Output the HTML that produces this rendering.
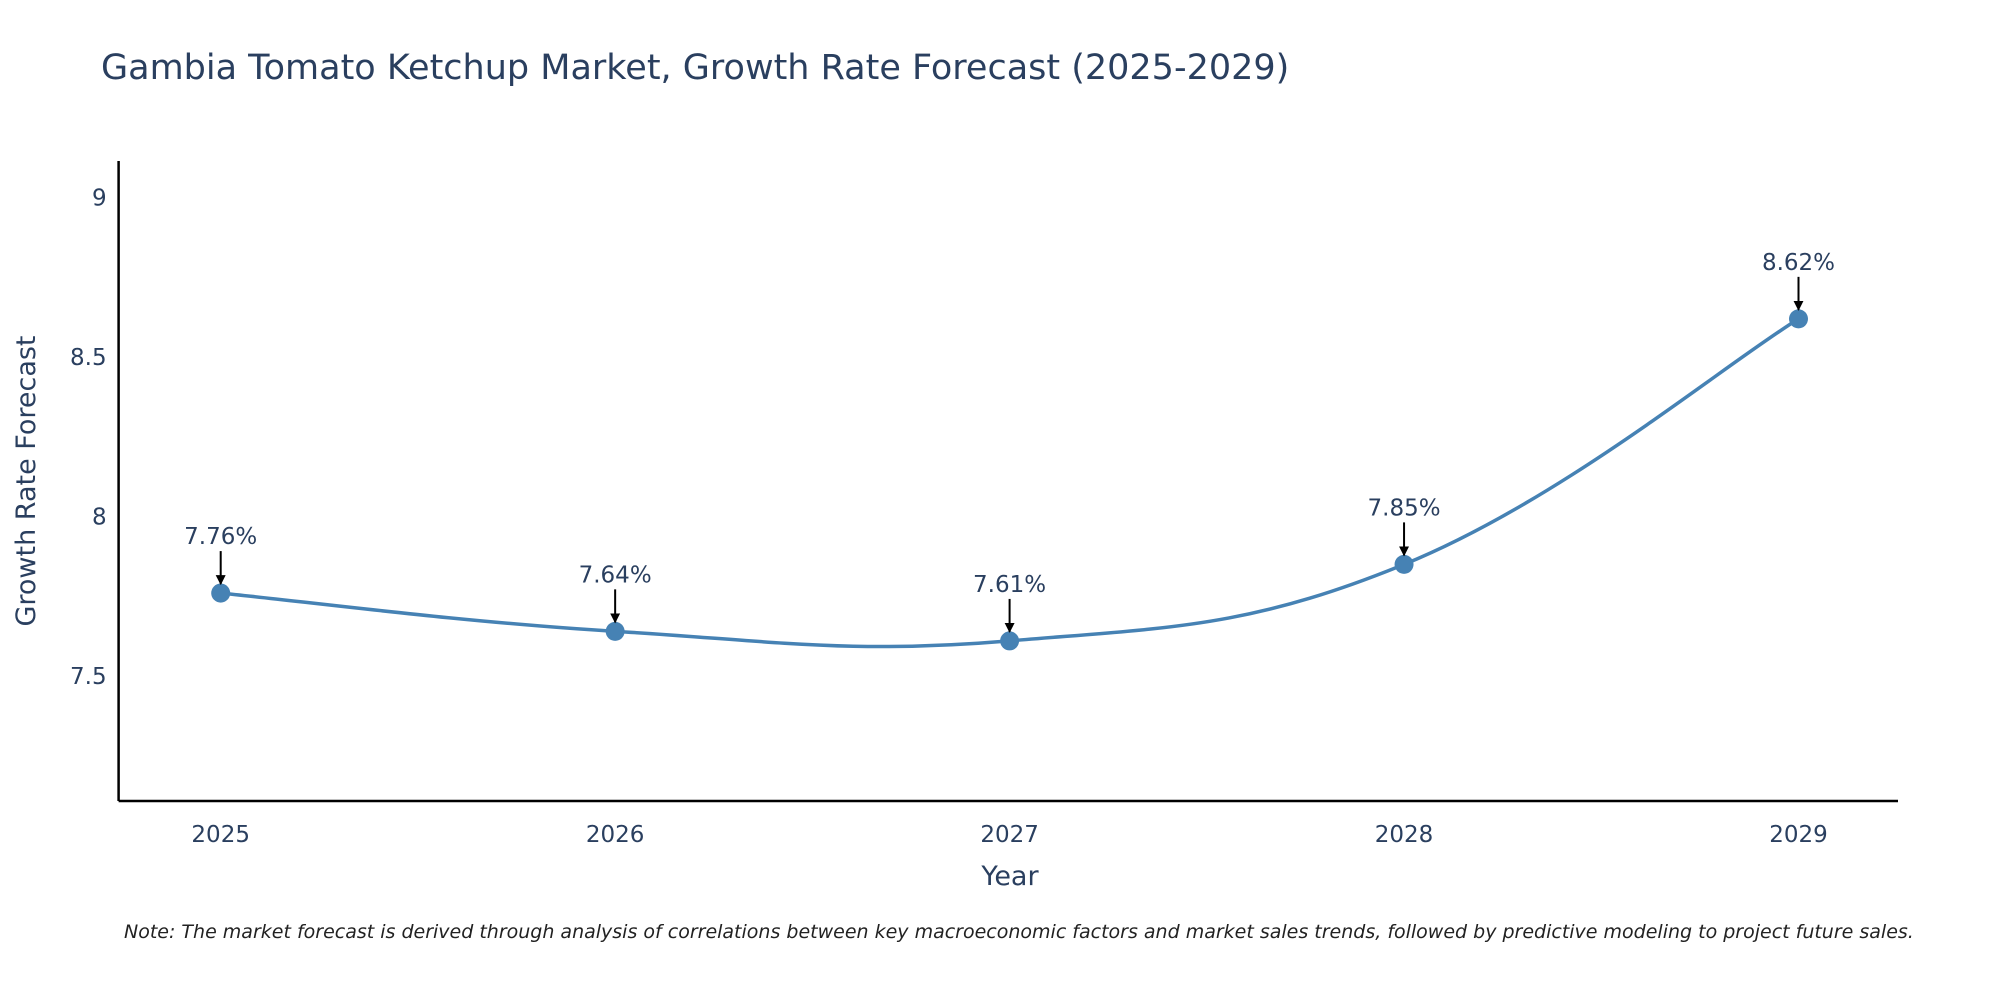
<!DOCTYPE html>
<html><head><meta charset="utf-8"><style>
html,body{margin:0;padding:0;background:#fff;}
svg{display:block;font-family:"DejaVu Sans","Liberation Sans",sans-serif;}
</style></head><body>
<svg id="chart" width="2000" height="1000">
<text x="101" y="79" font-size="35" fill="#2a3f5f">Gambia Tomato Ketchup Market, Growth Rate Forecast (2025-2029)</text>
<g id="plot"></g>
<text x="1010" y="885" font-size="27" fill="#2a3f5f" text-anchor="middle">Year</text>
<text transform="translate(35,481) rotate(-90)" font-size="27" fill="#2a3f5f" text-anchor="middle">Growth Rate Forecast</text>
<text x="124" y="938" font-size="19" font-style="italic" fill="#222">Note: The market forecast is derived through analysis of correlations between key macroeconomic factors and market sales trends, followed by predictive modeling to project future sales.</text>
</svg>
<script>
const years = [2025, 2026, 2027, 2028, 2029];
const values = [7.76, 7.64, 7.61, 7.85, 8.62];
const labels = ["7.76%", "7.64%", "7.61%", "7.85%", "8.62%"];
const yTicks = [7.5, 8, 8.5, 9];
const yTickLabels = ["7.5", "8", "8.5", "9"];

const NS = "http://www.w3.org/2000/svg";
const g = document.getElementById('plot');
const L = 118.6, R = 1898, T = 161, B = 801;
const yMin = 7.108, yMax = 9.115;
const xs = v => 220.7 + (v - 2025) * (1798.5 - 220.7) / 4;
const ys = v => B - (v - yMin) / (yMax - yMin) * (B - T);
function mk(tag, attrs, name){
  const e = document.createElementNS(NS, tag);
  for (const k in attrs) e.setAttribute(k, attrs[k]);
  
  
  g.appendChild(e); return e;
}
const defs = document.createElementNS(NS,'defs');
defs.innerHTML = '<marker id="ah" viewBox="0 0 10 10" refX="9" refY="5" markerWidth="5" markerHeight="5" orient="auto"><path d="M0,0 L10,5 L0,10 z" fill="#000"/></marker>';
g.appendChild(defs);
mk('line',{x1:L,y1:T,x2:L,y2:B,stroke:'#000','stroke-width':2.5},'y-axis-line');
mk('line',{x1:L,y1:B,x2:R,y2:B,stroke:'#000','stroke-width':2.5},'x-axis-line');
yTicks.forEach((t,i)=>{
  const e = mk('text',{x:L-12,y:ys(t)+8,'font-size':23,fill:'#2a3f5f','text-anchor':'end'},'y-tick-label');
  e.textContent = yTickLabels[i];
});
years.forEach(y=>{
  const e = mk('text',{x:xs(y),y:B+41,'font-size':23,fill:'#2a3f5f','text-anchor':'middle'},'x-tick-label');
  e.textContent = y;
});
const P = years.map((y,i)=>[xs(y), ys(values[i])]);
let d = `M${P[0][0]},${P[0][1]}`;
const s = 0.2;
for (let i=0;i<P.length-1;i++){
  const p0=P[Math.max(i-1,0)], p1=P[i], p2=P[i+1], p3=P[Math.min(i+2,P.length-1)];
  const c1=[p1[0]+(p2[0]-p0[0])*s, p1[1]+(p2[1]-p0[1])*s];
  const c2=[p2[0]-(p3[0]-p1[0])*s, p2[1]-(p3[1]-p1[1])*s];
  d += ` C${c1[0]},${c1[1]} ${c2[0]},${c2[1]} ${p2[0]},${p2[1]}`;
}
mk('path',{d:d,fill:'none',stroke:'#4682b4','stroke-width':3.5},'growth-line');
P.forEach((p,i)=>{
  mk('circle',{cx:p[0],cy:p[1],r:9.5,fill:'#4682b4'},'data-point');
  mk('line',{x1:p[0],y1:p[1]-42,x2:p[0],y2:p[1]-9,stroke:'#000','stroke-width':2,'marker-end':'url(#ah)'},'annotation-arrow');
  const t = mk('text',{x:p[0],y:p[1]-49,'font-size':23,fill:'#2a3f5f','text-anchor':'middle'},'value-label');
  t.textContent = labels[i];
});
</script>
</body></html>
